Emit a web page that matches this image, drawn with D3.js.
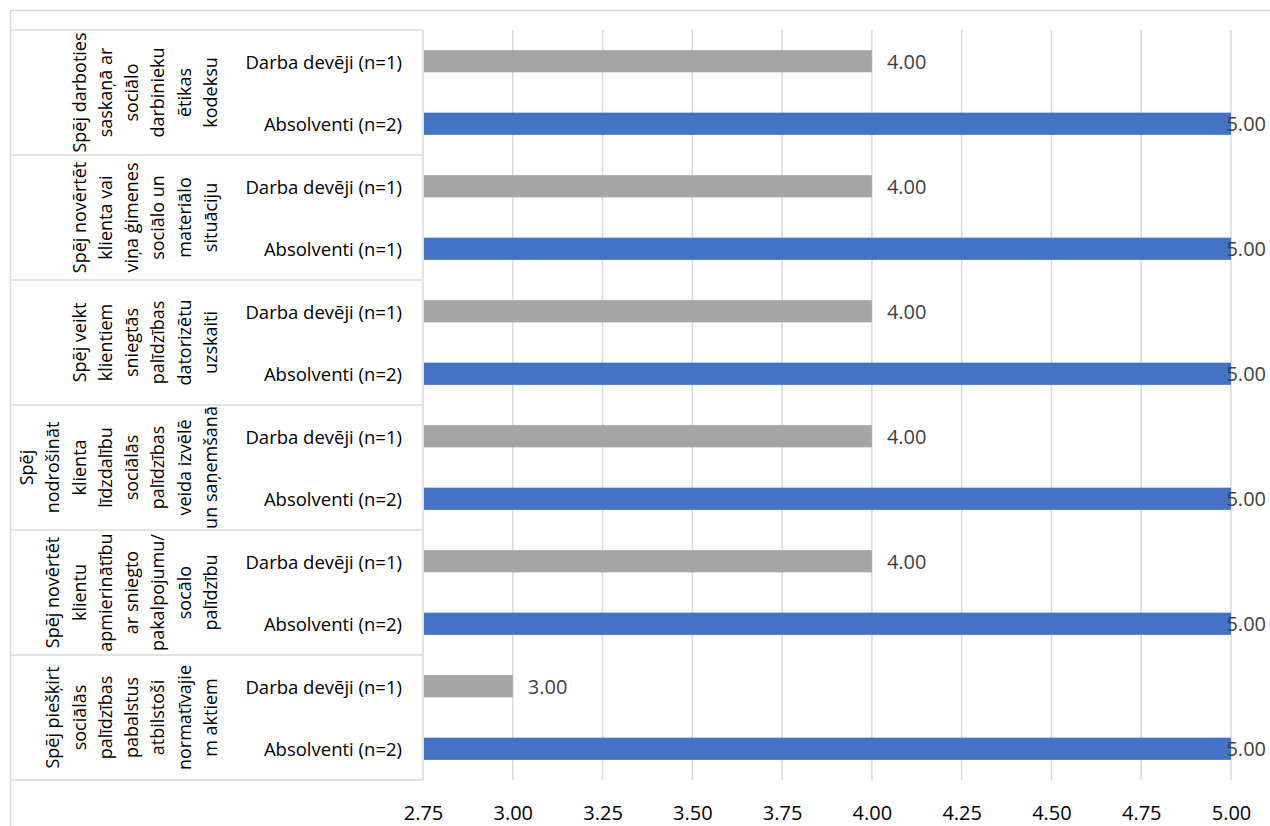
<!DOCTYPE html>
<html>
<head>
<meta charset="utf-8">
<script src="https://cdn.jsdelivr.net/npm/d3@7"></script>
<style>
  html, body { margin: 0; padding: 0; background: #fff; }
  svg { display: block; font-family: "Open Sans", "Noto Sans", sans-serif; }
</style>
</head>
<body>
<svg id="chart" width="1270" height="826"></svg>
<script>
// ---- data ----
const categories = [
  ["Spēj darboties", "saskaņā ar", "sociālo", "darbinieku", "ētikas", "kodeksu"],
  ["Spēj novērtēt", "klienta vai", "viņa ģimenes", "sociālo un", "materiālo", "situāciju"],
  ["Spēj veikt", "klientiem", "sniegtās", "palīdzības", "datorizētu", "uzskaiti"],
  ["Spēj", "nodrošināt", "klienta", "līdzdalību", "sociālās", "palīdzības", "veida izvēlē", "un saņemšanā"],
  ["Spēj novērtēt", "klientu", "apmierinātību", "ar sniegto", "pakalpojumu/", "socālo", "palīdzību"],
  ["Spēj piešķirt", "sociālās", "palīdzības", "pabalstus", "atbilstoši", "normatīvajie", "m aktiem"]
];
const employerLabels = ["Darba devēji (n=1)", "Darba devēji (n=1)", "Darba devēji (n=1)", "Darba devēji (n=1)", "Darba devēji (n=1)", "Darba devēji (n=1)"];
const graduateLabels = ["Absolventi (n=2)", "Absolventi (n=1)", "Absolventi (n=2)", "Absolventi (n=2)", "Absolventi (n=2)", "Absolventi (n=2)"];
const employerValues = [4.00, 4.00, 4.00, 4.00, 4.00, 3.00];
const graduateValues = [5.00, 5.00, 5.00, 5.00, 5.00, 5.00];
const tickValues = [2.75, 3.00, 3.25, 3.50, 3.75, 4.00, 4.25, 4.50, 4.75, 5.00];
const seriesKeys = ["employer", "graduate"];
const seriesColors = { employer: "#A5A5A5", graduate: "#4472C4" };

// ---- scales ----
const svg = d3.select("#chart");
const gridColor = "#D9D9D9";
const x = d3.scaleLinear().domain([2.75, 5.00]).range([423, 1231]);
const y = d3.scaleBand().domain(d3.range(categories.length)).range([30, 780]).padding(0);
const ySub = d3.scaleBand().domain(seriesKeys).range([0, y.bandwidth()]).padding(0);
const barH = ySub.bandwidth() * 0.355;

const rows = [];
categories.forEach((c, i) => {
  rows.push({ cat: i, key: "employer", label: employerLabels[i], value: employerValues[i] });
  rows.push({ cat: i, key: "graduate", label: graduateLabels[i], value: graduateValues[i] });
});

// outer frame (clipped chart area)
svg.append("path")
  .attr("d", "M10.5,826 V10.5 H1270")
  .attr("fill", "none").attr("stroke", gridColor).attr("stroke-width", 1.5);

// gridlines
svg.append("g").selectAll("line").data(tickValues).join("line")
  .attr("x1", d => x(d)).attr("x2", d => x(d))
  .attr("y1", 30).attr("y2", 780)
  .attr("stroke", gridColor).attr("stroke-width", 1.5);

// category separator lines
const sepYs = d3.range(categories.length + 1).map(i => i < categories.length ? y(i) : y(categories.length - 1) + y.bandwidth());
svg.append("g").selectAll("line").data(sepYs).join("line")
  .attr("x1", 10).attr("x2", x(2.75))
  .attr("y1", d => d).attr("y2", d => d)
  .attr("stroke", gridColor).attr("stroke-width", 1.5);

// bars
svg.append("g").selectAll("rect").data(rows).join("rect")
  .attr("x", x(2.75) + 1)
  .attr("y", d => y(d.cat) + ySub(d.key) + ySub.bandwidth() / 2 - barH / 2)
  .attr("width", d => x(d.value) - x(2.75) - 1)
  .attr("height", barH)
  .attr("fill", d => seriesColors[d.key]);

// data labels
const fmt = d3.format(".2f");
svg.append("g").selectAll("text").data(rows).join("text")
  .attr("x", d => x(d.value) + 15)
  .attr("y", d => y(d.cat) + ySub(d.key) + ySub.bandwidth() / 2)
  .attr("dominant-baseline", "central")
  .attr("font-size", 20)
  .attr("fill", "#404040")
  .text(d => fmt(d.value))
  .each(function () {
    const w = this.getComputedTextLength();
    const cur = +d3.select(this).attr("x");
    if (cur + w > 1266) d3.select(this).attr("x", 1266 - w);
  });

// second-level category labels
svg.append("g").selectAll("text").data(rows).join("text")
  .attr("x", 402)
  .attr("y", d => y(d.cat) + ySub(d.key) + ySub.bandwidth() / 2)
  .attr("text-anchor", "end")
  .attr("dominant-baseline", "central")
  .attr("font-size", 18.5)
  .attr("fill", "#000")
  .text(d => d.label);

// first-level rotated category labels
const lineStep = 26.3;
const lastLineX = 210;
categories.forEach((lines, i) => {
  const cy = y(i) + y.bandwidth() / 2;
  lines.forEach((ln, j) => {
    const lx = lastLineX - (lines.length - 1 - j) * lineStep;
    svg.append("text")
      .attr("transform", `translate(${lx},${cy}) rotate(-90)`)
      .attr("text-anchor", "middle")
      .attr("dominant-baseline", "central")
      .attr("font-size", 18)
      .attr("fill", "#000")
      .text(ln);
  });
});

// x axis tick labels
const xAxis = d3.axisBottom(x).tickValues(tickValues).tickFormat(fmt).tickSize(0).tickPadding(0);
const ax = svg.append("g").attr("transform", "translate(0,800)").call(xAxis);
ax.select(".domain").remove();
ax.selectAll("text")
  .attr("font-family", "\"Open Sans\", \"Noto Sans\", sans-serif")
  .attr("font-size", 20)
  .attr("fill", "#000")
  .attr("dy", null)
  .attr("y", 12)
  .attr("dominant-baseline", "central");
</script>
</body>
</html>
